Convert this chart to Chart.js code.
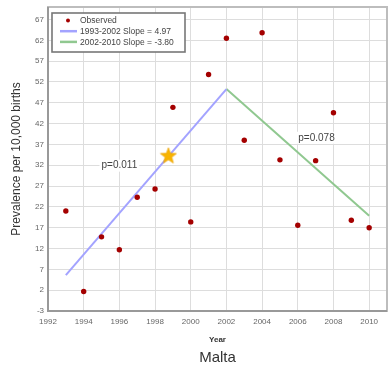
<!DOCTYPE html>
<html>
<head>
    <meta charset="utf-8" />
    <title>Malta</title>
    <style>
        html, body { margin: 0; padding: 0; background: #fff; overflow: hidden; }
        /* un poco mas ancho que la ventana: chart.js deja 5px a la derecha */
        #box { width: 392px; height: 369px; }
    </style>
</head>
<body>
    <div id="box"><canvas id="chart"></canvas></div>

    <script src="https://cdn.jsdelivr.net/npm/chart.js"></script>
    <script type="text/javascript">
        // datos
        const years = [1993, 1994, 1995, 1996, 1997, 1998, 1999, 2000, 2001, 2002, 2003, 2004, 2005, 2006, 2007, 2008, 2009, 2010];
        const observed = [21.0, 1.7, 14.8, 11.7, 24.3, 26.3, 45.9, 18.4, 53.8, 62.5, 38.0, 63.8, 33.3, 17.6, 33.1, 44.6, 18.8, 17.0];
        const trendYears1 = [1993, 2002];
        const trend1 = [5.6, 50.3];
        const trendYears2 = [2002, 2010];
        const trend2 = [50.3, 19.9];
        const starYear = [1998.75];
        const starValue = [34.3];
        const xTicks = [1992, 1994, 1996, 1998, 2000, 2002, 2004, 2006, 2008, 2010];
        const yTicks = [-3, 2, 7, 12, 17, 22, 27, 32, 37, 42, 47, 52, 57, 62, 67];
        const labels = ['Observed', '1993-2002 Slope = 4.97', '2002-2010 Slope = -3.80'];
        const pLabels = ['p=0.011', 'p=0.078'];

        function toPoints(xs, ys) {
            return xs.map((x, i) => ({ x: x, y: ys[i] }));
        }

        // sin margenes extra en los ejes
        function noPad(s) {
            s.paddingLeft = 0; s.paddingRight = 0; s.paddingTop = 0; s.paddingBottom = 0;
        }

        // estrella rellena para el punto de Malta
        const star = document.createElement('canvas');
        star.width = 18; star.height = 18;
        (function () {
            const c = star.getContext('2d');
            c.beginPath();
            for (let i = 0; i < 10; i++) {
                const r = i % 2 === 0 ? 8.5 : 3.6;
                const a = -Math.PI / 2 + i * Math.PI / 5;
                c.lineTo(9 + r * Math.cos(a), 9.5 + r * Math.sin(a));
            }
            c.closePath();
            c.fillStyle = '#f8b400';
            c.fill();
            c.strokeStyle = '#e9a000';
            c.lineWidth = 0.6;
            c.stroke();
        })();

        Chart.defaults.font.family = '"Liberation Sans", Arial, sans-serif';
        Chart.defaults.color = '#666';

        // marco del area del grafico
        const frame = {
            id: 'frame',
            beforeDatasetsDraw(chart) {
                const a = chart.chartArea, ctx = chart.ctx;
                ctx.save();
                ctx.strokeStyle = '#bdbdbd';
                ctx.lineWidth = 2;
                ctx.strokeRect(a.left, a.top, a.right - a.left, a.bottom - a.top);
                ctx.strokeStyle = '#999';
                ctx.beginPath();
                ctx.moveTo(a.left, a.top);
                ctx.lineTo(a.left, a.bottom);
                ctx.lineTo(a.right, a.bottom);
                ctx.stroke();
                ctx.restore();
            }
        };

        // textos p= y leyenda dentro del grafico
        const extras = {
            id: 'extras',
            afterDraw(chart) {
                const ctx = chart.ctx, xs = chart.scales.x, ys = chart.scales.y;
                ctx.save();
                ctx.font = '10px "Liberation Sans", Arial, sans-serif';
                ctx.textAlign = 'center';
                ctx.textBaseline = 'middle';
                const spots = [[1996.0, 31.9], [2007.05, 38.6]];
                pLabels.forEach((t, i) => {
                    const px = xs.getPixelForValue(spots[i][0]);
                    const py = ys.getPixelForValue(spots[i][1]);
                    const w = ctx.measureText(t).width + 4;
                    ctx.fillStyle = '#fff';
                    ctx.fillRect(px - w / 2, py - 6, w, 12);
                    ctx.fillStyle = '#444';
                    ctx.fillText(t, px, py);
                });

                // leyenda
                ctx.fillStyle = '#fff';
                ctx.fillRect(52, 13, 133, 39);
                ctx.strokeStyle = '#777';
                ctx.lineWidth = 1.6;
                ctx.strokeRect(52, 13, 133, 39);
                ctx.font = '8.5px "Liberation Sans", Arial, sans-serif';
                ctx.textAlign = 'left';
                const ds = chart.data.datasets;
                [0, 1, 2].forEach(i => {
                    const y = 20.5 + i * 10.7;
                    if (i === 0) {
                        ctx.fillStyle = ds[0].backgroundColor;
                        ctx.beginPath();
                        ctx.arc(68, y, 2, 0, Math.PI * 2);
                        ctx.fill();
                    } else {
                        ctx.strokeStyle = ds[i].borderColor;
                        ctx.lineWidth = 2.5;
                        ctx.beginPath();
                        ctx.moveTo(60, y);
                        ctx.lineTo(77, y);
                        ctx.stroke();
                    }
                    ctx.fillStyle = '#444';
                    ctx.fillText(ds[i].label, 80, y + 0.5);
                });
                ctx.restore();
            }
        };

        const ctx = document.getElementById('chart').getContext('2d');
        const myChart = new Chart(ctx, {
            type: 'scatter',
            data: {
                datasets: [{
                    label: labels[0],
                    data: toPoints(years, observed),
                    backgroundColor: '#a40000',
                    borderWidth: 0,
                    pointRadius: 2.7,
                    order: 1
                }, {
                    type: 'line',
                    label: labels[1],
                    data: toPoints(trendYears1, trend1),
                    borderColor: '#a3a3ff',
                    borderWidth: 2,
                    pointRadius: 0,
                    fill: false,
                    order: 3
                }, {
                    type: 'line',
                    label: labels[2],
                    data: toPoints(trendYears2, trend2),
                    borderColor: '#90c890',
                    borderWidth: 2,
                    pointRadius: 0,
                    fill: false,
                    order: 3
                }, {
                    label: 'Malta',
                    data: toPoints(starYear, starValue),
                    pointStyle: star,
                    order: 0
                }]
            },
            options: {
                responsive: true,
                maintainAspectRatio: false,
                animation: false,
                layout: { padding: { left: 4, right: 0, top: 7, bottom: 0 } },
                plugins: {
                    legend: { display: false },
                    tooltip: { enabled: false }
                },
                scales: {
                    x: {
                        type: 'linear',
                        min: 1992,
                        max: 2011,
                        afterBuildTicks: s => { s.ticks = xTicks.map(v => ({ value: v })); },
                        afterFit: s => { s.height = 38; noPad(s); },
                        ticks: { font: { size: 8 }, padding: 6, maxRotation: 0, color: '#666', callback: v => String(v) },
                        grid: { color: '#ddd', drawTicks: false },
                        border: { display: false },
                        title: {
                            display: true,
                            text: 'Year',
                            color: '#333',
                            font: { size: 8, weight: 'bold' },
                            padding: { top: 0, bottom: 4 }
                        }
                    },
                    // eje vacio solo para el nombre del pais, centrado bajo el grafico
                    pais: {
                        type: 'linear',
                        position: 'bottom',
                        weight: 1,
                        min: 1992,
                        max: 2011,
                        afterFit: s => { s.height = 20; noPad(s); },
                        ticks: { display: false },
                        grid: { display: false },
                        border: { display: false },
                        title: {
                            display: true,
                            text: 'Malta',
                            color: '#333',
                            font: { size: 15 },
                            padding: { top: 0, bottom: 2 }
                        }
                    },
                    y: {
                        min: -3,
                        max: 70,
                        afterBuildTicks: s => { s.ticks = yTicks.map(v => ({ value: v })); },
                        afterFit: s => { s.width = 44; noPad(s); },
                        ticks: { font: { size: 8 }, padding: 4, color: '#666' },
                        grid: { color: '#ddd', drawTicks: false },
                        border: { display: false },
                        title: {
                            display: true,
                            text: 'Prevalence per 10,000 births',
                            color: '#333',
                            font: { size: 12 },
                            padding: { top: 5, bottom: 0 }
                        }
                    }
                }
            },
            plugins: [frame, extras]
        });
    </script>
</body>
</html>
